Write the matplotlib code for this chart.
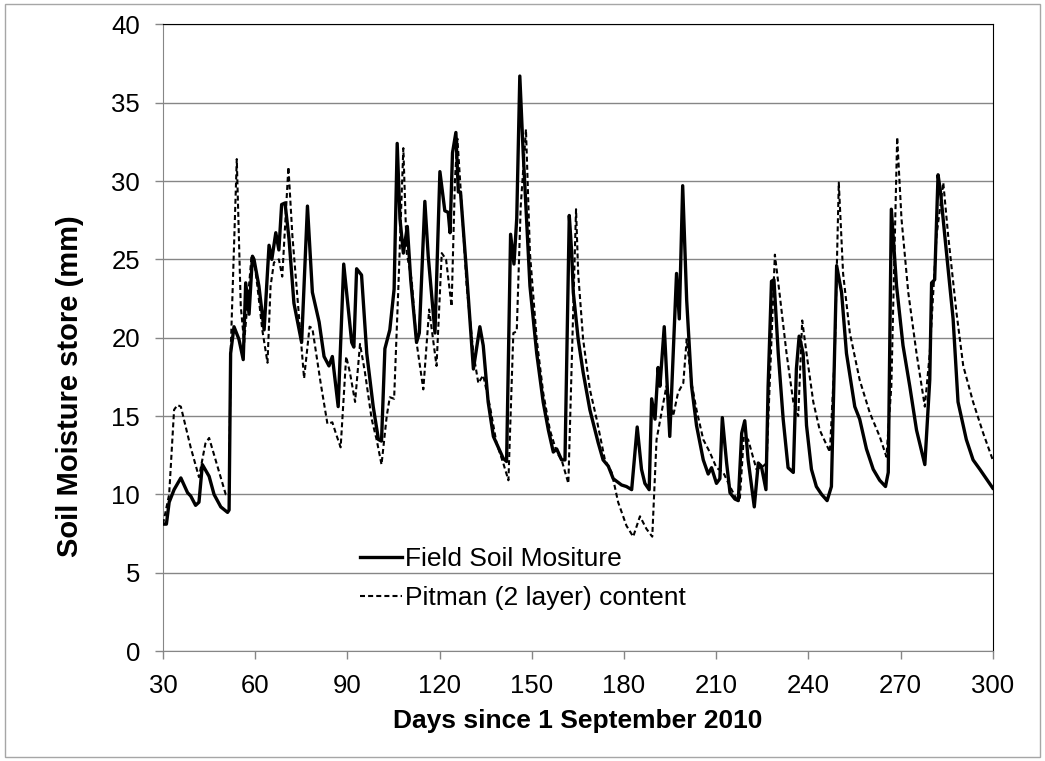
"""Field soil moisture vs Pitman (2 layer) model store, Sept 2010 onwards."""

from matplotlib import pyplot as plt
from matplotlib.patches import Rectangle

# Field soil moisture (solid line)
field_days = [
    30.0, 31.1, 32.0, 33.6, 35.8, 38.0, 39.0, 40.6, 41.7, 42.8, 45.0, 46.6,
    48.8, 51.0, 51.5, 52.0, 53.1, 54.7, 56.1, 56.9, 58.0, 59.1, 59.6, 61.2,
    62.9, 64.5, 65.4, 66.7, 67.7, 68.6, 69.7, 71.0, 72.6, 75.1, 77.0, 78.6,
    80.8, 82.4, 84.0, 85.1, 87.0, 88.8, 91.4, 92.1, 93.0, 94.6, 96.3, 98.4,
    100.1, 101.1, 102.2, 103.8, 105.2, 106.2, 107.1, 108.2, 109.5, 110.6,
    112.5, 113.4, 115.2, 116.3, 118.5, 120.1, 121.7, 122.8, 123.4, 124.2,
    125.3, 126.1, 126.8, 128.8, 131.0, 133.1, 134.2, 135.8, 137.5, 139.1,
    140.7, 141.8, 143.1, 144.2, 145.1, 146.1, 147.2, 149.4, 151.6, 153.7,
    155.4, 157.0, 158.1, 159.7, 160.8, 162.2, 163.0, 163.5, 165.1, 166.7,
    168.9, 171.6, 173.2, 174.9, 176.5, 179.2, 180.8, 182.5, 184.3, 185.7,
    186.8, 188.2, 189.0, 190.1, 191.1, 191.7, 193.1, 194.9, 197.1, 198.0,
    199.1, 200.4, 202.0, 203.6, 205.8, 207.4, 208.5, 210.1, 211.2, 212.0,
    213.4, 214.5, 216.1, 217.2, 218.3, 219.3, 220.4, 222.4, 223.7, 224.7,
    226.2, 226.9, 228.0, 228.8, 230.2, 231.8, 233.4, 235.1, 236.1, 237.0,
    238.3, 239.4, 241.0, 242.6, 244.3, 246.1, 247.5, 249.2, 250.8, 252.4,
    255.1, 256.7, 258.9, 261.1, 263.2, 265.1, 266.0, 267.0, 267.6, 268.7,
    270.8, 273.0, 275.2, 277.9, 279.5, 280.1, 281.1, 282.2, 283.0, 284.4,
    287.1, 288.7, 291.4, 293.6, 295.8, 297.9, 300.0,
]
field_mm = [
    8.1, 8.1, 9.5, 10.3, 11.05, 10.1, 9.9, 9.3, 9.5, 11.9, 11.15, 10.0,
    9.2, 8.85, 9.0, 19.0, 20.7, 19.9, 18.6, 23.5, 21.5, 25.2, 25.0, 23.3,
    20.5, 25.9, 25.0, 26.7, 25.6, 28.5, 28.6, 26.3, 22.2, 19.7, 28.4, 22.9,
    21.0, 18.8, 18.2, 18.8, 15.6, 24.7, 19.7, 19.4, 24.4, 24.0, 19.0, 15.6,
    13.5, 13.4, 19.3, 20.5, 23.1, 32.4, 27.6, 25.4, 27.1, 23.7,
    19.7, 20.3, 28.7, 25.2, 20.3, 30.6, 28.1, 28.0, 26.7, 31.8,
    33.1, 29.3, 29.3, 24.1, 18.0, 20.7, 19.5, 15.9, 13.7, 13.0,
    12.3, 12.1, 26.6, 24.7, 27.6, 36.7, 31.8, 23.3, 19.0, 15.9,
    14.1, 12.7, 12.9, 12.2, 12.2, 27.8, 25.4, 22.9, 19.9, 17.8,
    15.4, 13.3, 12.2, 11.8, 11.0, 10.6, 10.5, 10.3, 14.3, 11.6,
    10.7, 10.3, 16.1, 14.8, 18.1, 16.9, 20.7, 13.7, 24.1, 21.2,
    29.7, 22.4, 16.9, 14.4, 12.2, 11.3, 11.7, 10.7, 11.0, 14.9,
    12.0, 10.1, 9.7, 9.6, 13.9, 14.7, 12.2, 9.2, 12.0, 11.8,
    10.3, 16.9, 23.6, 23.7, 19.0, 14.8, 11.7, 11.4, 18.0, 20.1,
    19.0, 14.4, 11.6, 10.5, 10.0, 9.6, 10.5, 24.6, 22.9, 19.0,
    15.6, 14.8, 12.9, 11.6, 10.9, 10.5, 11.4, 28.2, 26.5, 23.3,
    19.5, 16.9, 14.1, 11.9, 17.3, 23.5, 23.7, 30.4, 29.3, 26.5,
    21.2, 15.9, 13.5, 12.2, 11.6, 11.0, 10.4,
]

# Pitman (2 layer) model content (dashed line)
pitman_days = [
    30.0, 32.0, 33.6, 34.7, 35.8, 39.0, 41.7, 43.8, 45.0, 47.7, 50.4, 51.5,
    52.0, 54.0, 55.3, 56.4, 57.4, 58.8, 59.6, 60.7, 62.3, 64.0, 65.0, 66.1,
    67.7, 68.8, 70.8, 72.1, 73.7, 75.9, 77.7, 78.6, 81.3, 83.5, 85.1, 86.4,
    87.8, 89.6, 90.8, 92.5, 94.1, 95.7, 97.9, 99.5, 101.1, 102.8, 103.8,
    105.2, 106.6, 108.2, 109.3, 110.9, 112.5, 114.7, 116.6, 119.0, 120.7,
    122.1, 123.9, 125.0, 125.8, 127.2, 128.8, 131.0, 132.6, 134.2, 136.4,
    138.5, 140.7, 142.4, 144.0, 145.1, 146.4, 148.1, 149.4, 151.6, 153.7,
    155.9, 158.1, 159.7, 161.9, 163.5, 164.4, 165.1, 166.7, 168.9, 171.1,
    173.8, 176.0, 178.1, 180.8, 183.0, 185.2, 187.3, 189.2, 190.6, 192.2,
    193.8, 196.0, 197.6, 199.3, 200.4, 202.0, 203.6, 205.8, 207.9, 210.1,
    212.3, 214.5, 216.6, 217.7, 219.0, 220.4, 223.1, 225.3, 226.4, 228.0,
    229.1, 230.7, 232.9, 235.1, 236.7, 238.0, 239.4, 241.6, 243.7, 247.0,
    248.6, 249.9, 251.3, 253.5, 256.7, 260.0, 263.2, 265.4, 267.0, 268.9,
    270.3, 272.5, 275.2, 277.9, 279.5, 281.7, 283.9, 285.5, 288.2, 290.4,
    293.6, 296.9, 300.0,
]
pitman_mm = [
    8.1, 10.0, 15.4, 15.7, 15.6, 13.0, 11.1, 13.25, 13.6, 11.8, 10.0, 9.9,
    19.0, 31.4, 22.0, 19.7, 22.0, 25.2, 25.0, 23.3, 20.5, 18.4, 23.3, 24.8,
    25.0, 23.9, 30.9, 26.5, 22.7, 17.4, 20.7, 20.6, 17.1, 14.5, 14.6, 13.8,
    13.0, 18.8, 17.8, 15.9, 19.6, 17.8, 14.8, 13.5, 11.9, 15.0, 16.2,
    16.1, 23.3, 32.1, 25.4, 23.7, 19.7, 16.7, 21.8, 18.2, 25.4,
    25.0, 22.0, 30.1, 32.7, 28.4, 23.3, 19.0, 17.1, 17.6, 15.6,
    13.3, 12.0, 10.9, 20.3, 20.4, 28.4, 33.3, 25.4, 19.9, 16.5,
    14.1, 12.7, 12.2, 10.7, 22.0, 28.2, 24.1, 19.9, 16.7, 14.8,
    12.2, 11.4, 9.5, 8.0, 7.3, 8.6, 7.8, 7.3, 13.5, 15.2,
    16.9, 15.0, 16.5, 17.1, 19.9, 17.1, 15.4, 13.5, 12.7, 11.7,
    11.4, 10.5, 9.7, 9.7, 13.7, 13.5, 11.6, 11.8, 12.0, 19.9,
    25.3, 22.7, 19.0, 15.9, 15.0, 21.1, 19.0, 15.9, 14.1, 12.7,
    19.0, 29.9, 24.1, 20.3, 17.3, 15.2, 13.7, 12.4, 16.9, 32.8,
    27.6, 22.9, 19.0, 15.6, 19.0, 26.5, 29.9, 26.5, 21.6, 18.2,
    15.9, 13.9, 12.2,
]

x_ticks = list(range(30, 301, 30))
y_ticks = list(range(0, 41, 5))

plt.rcParams["font.family"] = ["Liberation Sans", "DejaVu Sans"]

fig, ax = plt.subplots(figsize=(10.45, 7.61), dpi=100)
fig.subplots_adjust(left=0.156, right=0.950, top=0.968, bottom=0.1445)

# light border around the whole chart, as in the spreadsheet export
fig.patches.append(
    Rectangle((0.005, 0.005), 0.99, 0.99, transform=fig.transFigure,
              fill=False, edgecolor="#a6a6a6", linewidth=1.0)
)

ax.plot(field_days, field_mm, color="black", linewidth=2.4,
        label="Field Soil Mositure", zorder=3)
ax.plot(pitman_days, pitman_mm, color="black", linewidth=1.5,
        linestyle=(0, (2.4, 1.5)), label="Pitman (2 layer) content", zorder=4)

ax.set_xlim(30, 300)
ax.set_ylim(0, 40)
ax.set_xticks(x_ticks)
ax.set_yticks(y_ticks)
ax.grid(True, axis="y", color="#868686", linewidth=1.0)
ax.set_axisbelow(True)

ax.tick_params(axis="both", labelsize=18.5, color="#868686", length=5.5,
               width=1.0, pad=11)
for side in ("left", "bottom"):
    ax.spines[side].set_color("#868686")
for side in ("top", "right"):
    ax.spines[side].set_color("black")

ax.set_xlabel("Days since 1 September 2010", fontsize=19, fontweight="bold",
              va="center")
ax.xaxis.set_label_coords(0.5, -0.1116)
ax.set_ylabel("Soil Moisture store (mm)", fontsize=21, fontweight="bold",
              va="center")
ax.yaxis.set_label_coords(-0.112, 0.4226)

ax.legend(loc="center left", bbox_to_anchor=(0.237, 0.1156), frameon=False,
          fontsize=19, handlelength=1.6, handletextpad=0.1, borderpad=0,
          borderaxespad=0, labelspacing=0.55)

fig.savefig("out.png", dpi=100)
